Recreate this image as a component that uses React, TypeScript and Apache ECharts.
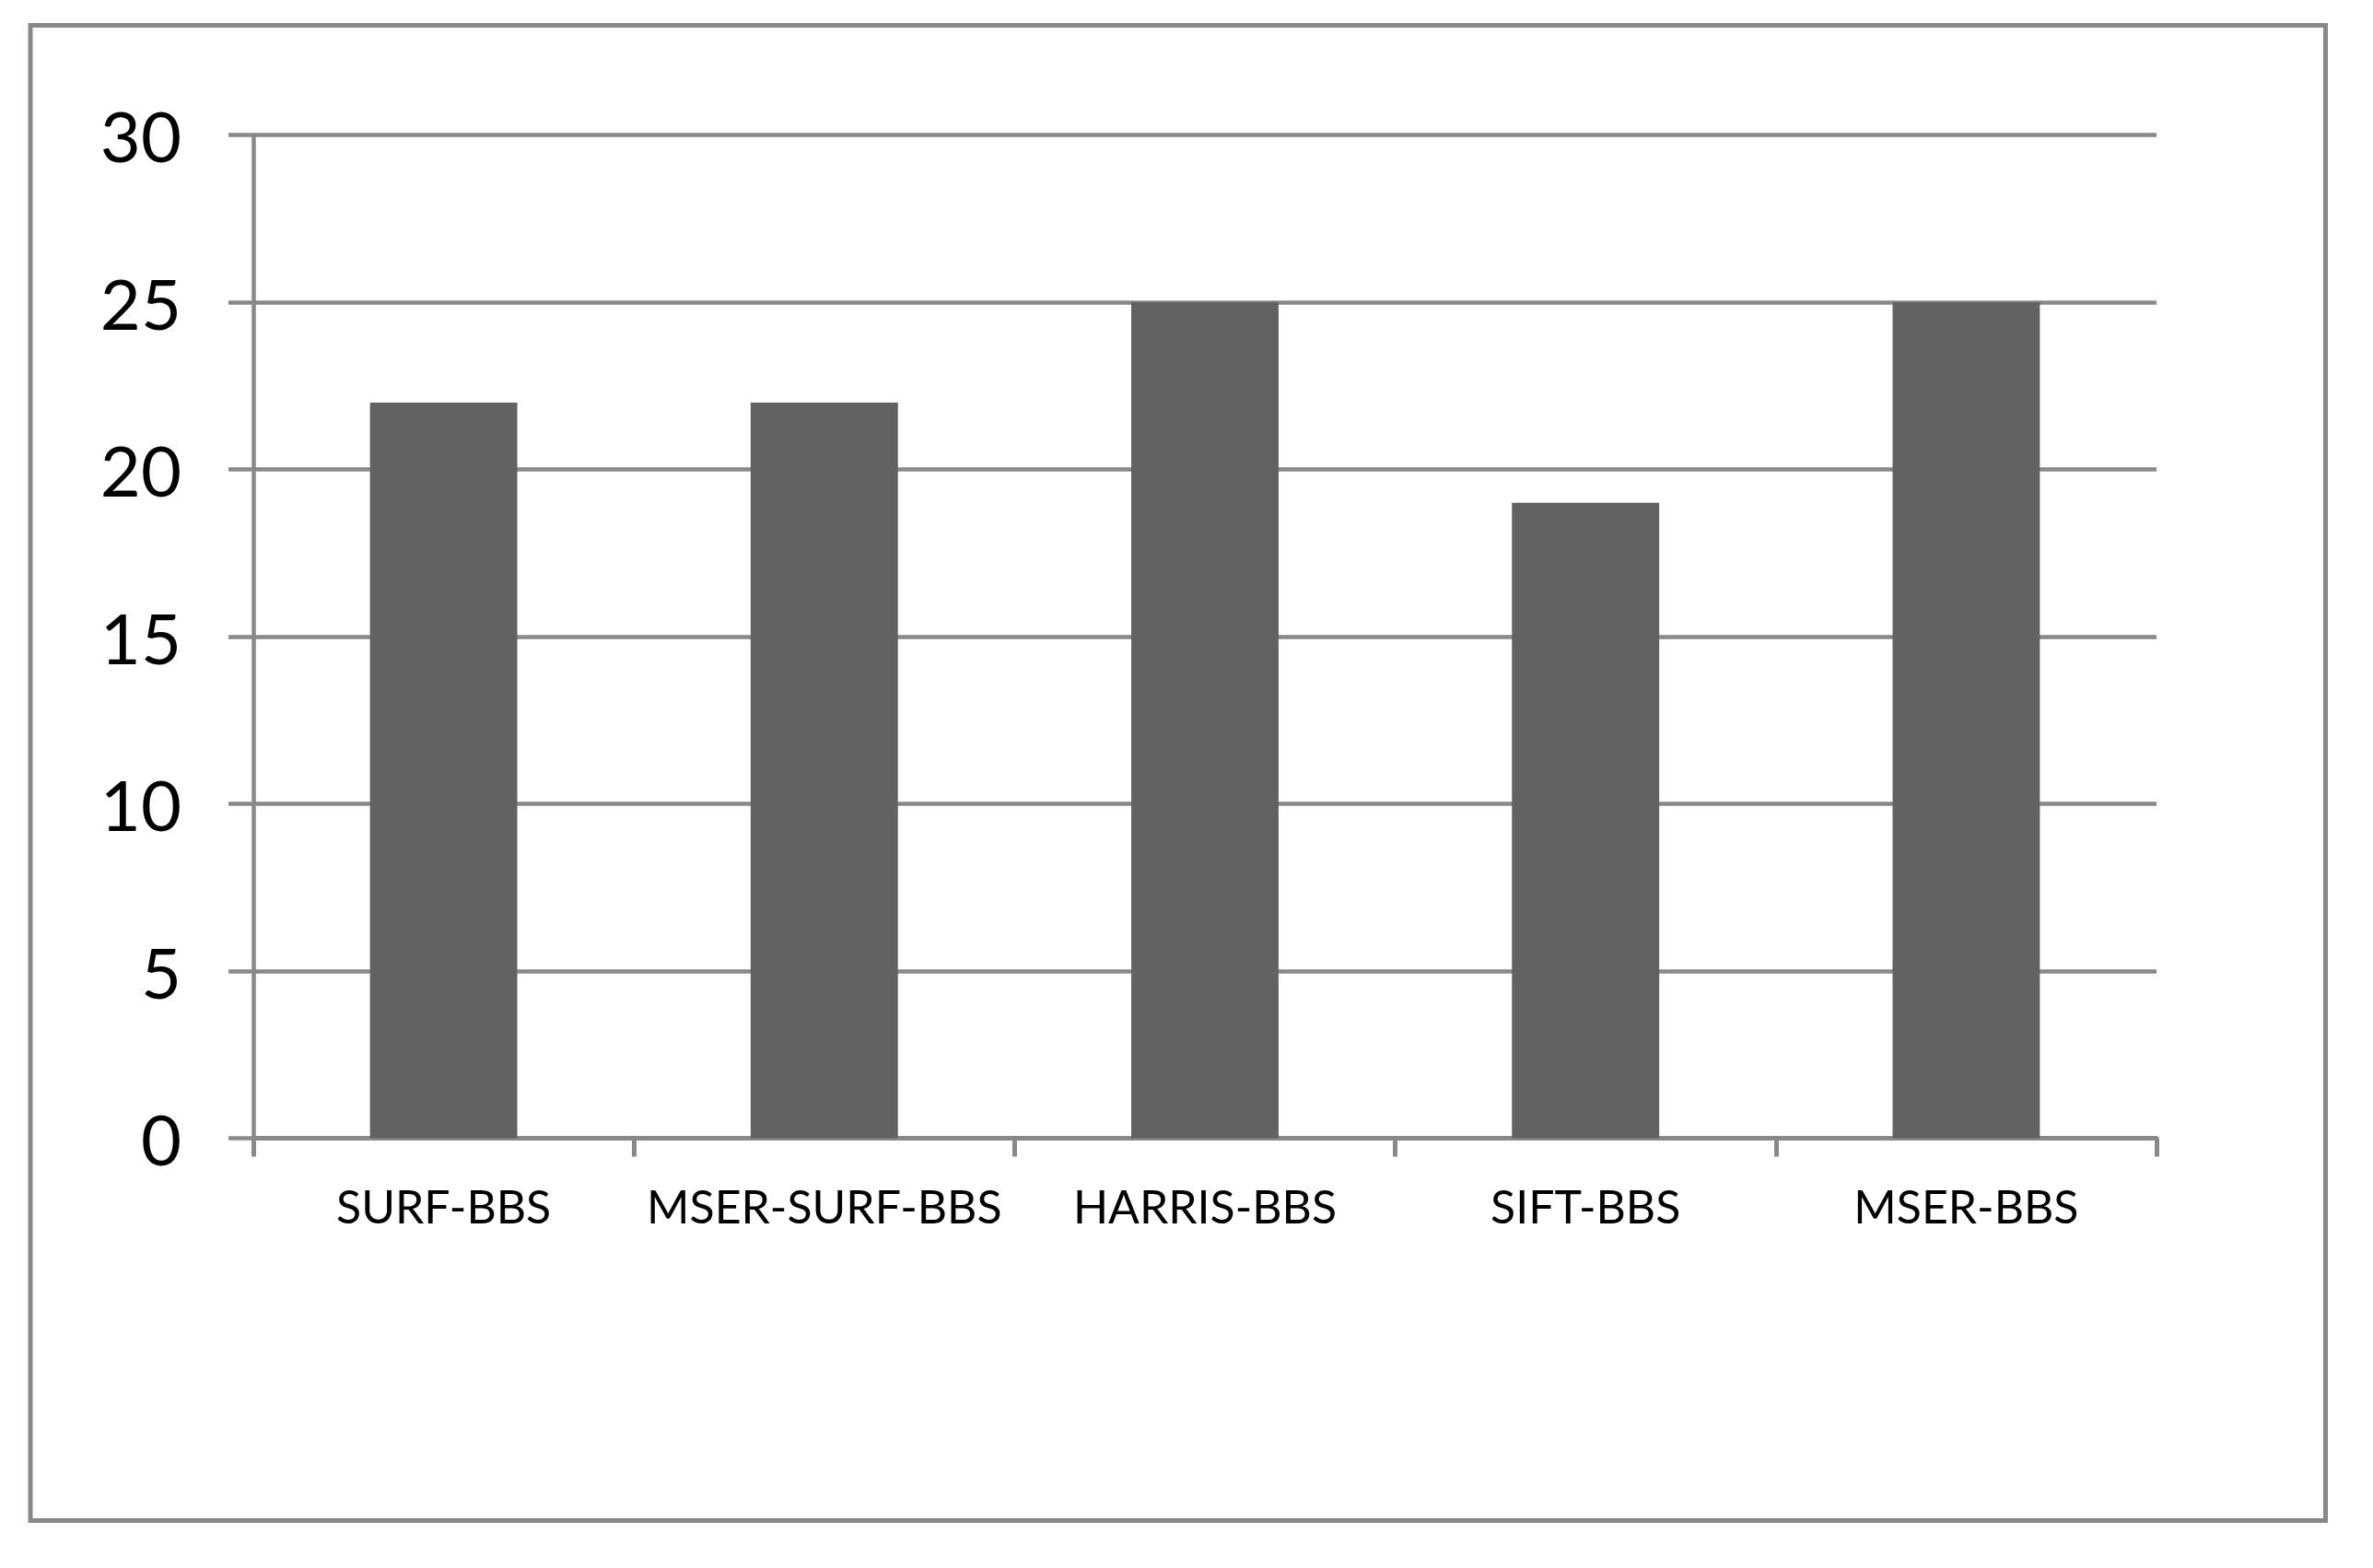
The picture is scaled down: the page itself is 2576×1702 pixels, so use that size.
import React, { useEffect, useRef } from "react";
import * as echarts from "echarts";

const categories = ["SURF-BBS", "MSER-SURF-BBS", "HARRIS-BBS", "SIFT-BBS", "MSER-BBS"];
const values = [22, 22, 25, 19, 25];
const yTicks = [0, 5, 10, 15, 20, 25, 30];

const GREY = "#898989";
const BAR = "#626262";
const FONT = "Lato";

export default function App() {
  const ref = useRef<HTMLDivElement>(null);
  useEffect(() => {
    document.body.style.margin = "0";
    const chart = echarts.init(ref.current!, undefined, { renderer: "svg" });
    chart.setOption({
      animation: false,
      backgroundColor: "#ffffff",
      grid: { left: 275, right: 235, top: 146.5, bottom: 466.5, containLabel: false },
      graphic: [
        {
          type: "rect",
          shape: { x: 33, y: 27.5, width: 2491.5, height: 1623 },
          style: { fill: "none", stroke: GREY, lineWidth: 5 },
          z: 0,
        },
      ],
      xAxis: {
        type: "category",
        data: categories,
        boundaryGap: true,
        axisLine: { show: true, lineStyle: { color: GREY, width: 5 } },
        axisTick: { show: true, length: 20, lineStyle: { color: GREY, width: 5 } },
        axisLabel: {
          color: "#000",
          fontFamily: FONT,
          fontSize: 50,
          lineHeight: 50,
          margin: 48,
          interval: 0,
        },
        splitLine: { show: false },
      },
      yAxis: {
        type: "value",
        min: yTicks[0],
        max: yTicks[yTicks.length - 1],
        interval: 5,
        axisLine: { show: true, lineStyle: { color: GREY, width: 4.5 } },
        axisTick: { show: true, length: 27, lineStyle: { color: GREY, width: 4.5 } },
        axisLabel: {
          color: "#000",
          fontFamily: FONT,
          fontSize: 76,
          margin: 78,
        },
        splitLine: { show: true, lineStyle: { color: GREY, width: 4.5 } },
      },
      series: [
        {
          type: "bar",
          data: values,
          barWidth: "38.7%",
          itemStyle: { color: BAR },
          z: 3,
        },
      ],
    });
    return () => chart.dispose();
  }, []);
  return (
    <div
      ref={ref}
      style={{ position: "absolute", left: 0, top: 0, width: 2576, height: 1702 }}
    />
  );
}
